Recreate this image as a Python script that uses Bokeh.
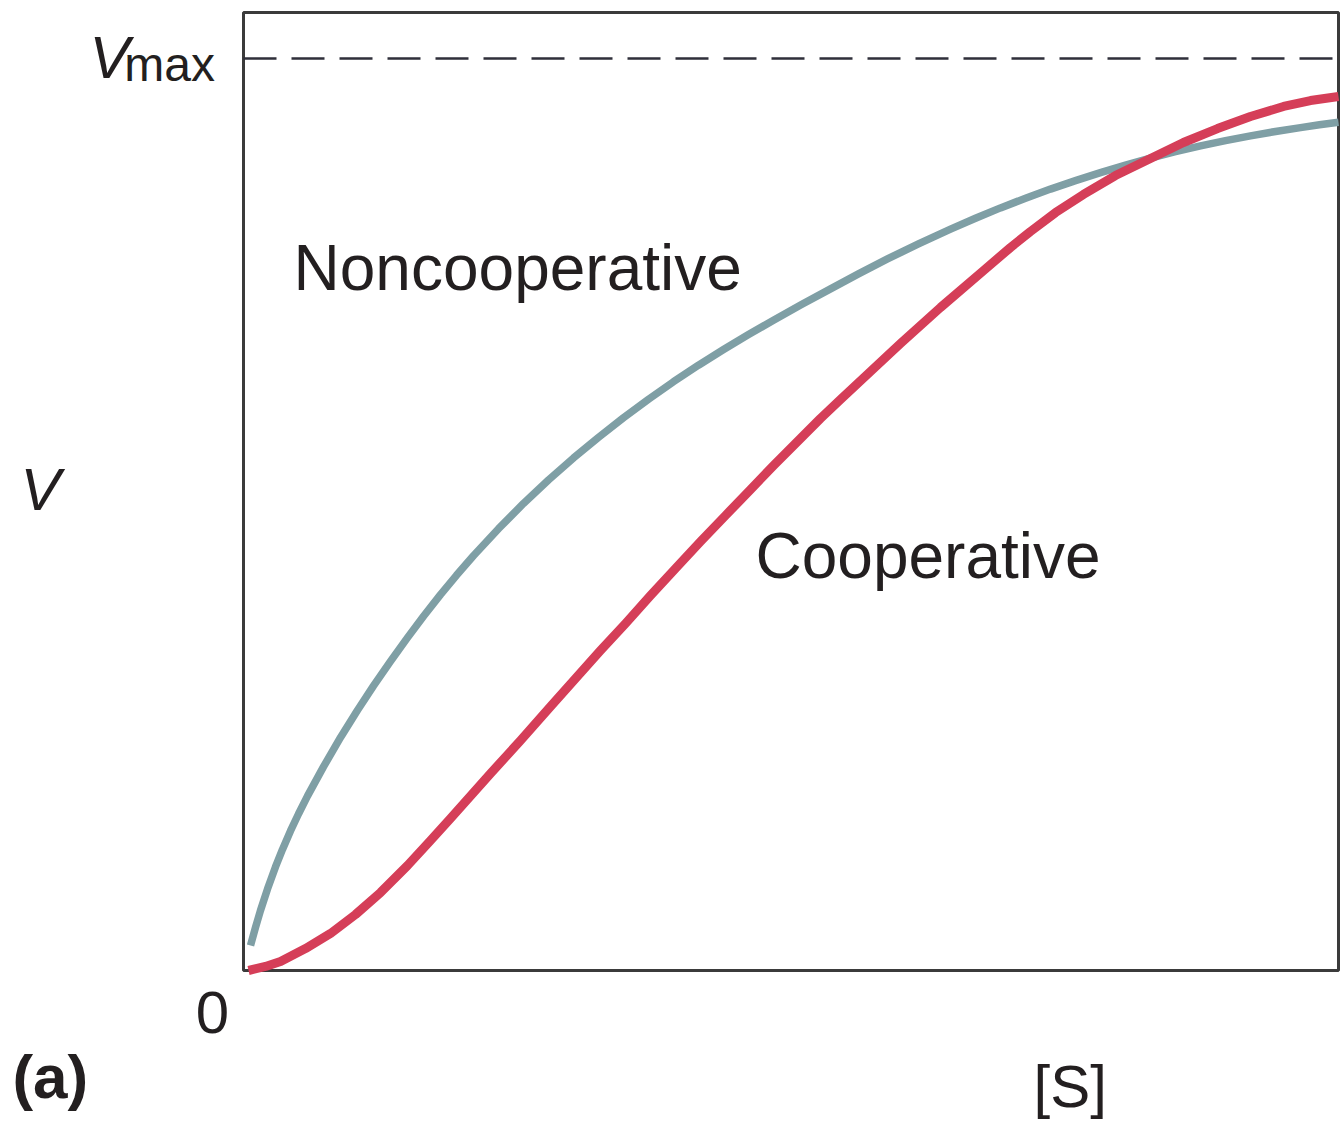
from bokeh.plotting import figure
from bokeh.models import Range1d, Label
from bokeh.embed import file_html
from bokeh.resources import INLINE

# Reaction velocity V (fraction of Vmax) against substrate concentration [S]
s_noncoop = [0.0064, 0.0110, 0.0155, 0.0219, 0.0292, 0.0356, 0.0429, 0.0502, 0.0584,
             0.0731, 0.0886, 0.1041, 0.1187, 0.1342, 0.1498, 0.1644, 0.1799, 0.1945,
             0.2100, 0.2329, 0.2557, 0.2785, 0.3014, 0.3242, 0.3470, 0.3699, 0.3927,
             0.4155, 0.4384, 0.4612, 0.4840, 0.5096, 0.5361, 0.5616, 0.5881, 0.6164,
             0.6457, 0.6685, 0.6913, 0.7142, 0.7370, 0.7598, 0.7826, 0.8055, 0.8283,
             0.8511, 0.8740, 0.8968, 0.9196, 0.9425, 0.9653, 0.9826, 1.0000]
v_noncoop = [0.0274, 0.0474, 0.0658, 0.0893, 0.1135, 0.1328, 0.1530, 0.1716, 0.1912,
             0.2235, 0.2555, 0.2854, 0.3121, 0.3390, 0.3650, 0.3884, 0.4121, 0.4333,
             0.4547, 0.4844, 0.5121, 0.5378, 0.5620, 0.5846, 0.6061, 0.6264, 0.6456,
             0.6637, 0.6809, 0.6973, 0.7130, 0.7302, 0.7474, 0.7639, 0.7802, 0.7967,
             0.8129, 0.8249, 0.8362, 0.8468, 0.8568, 0.8661, 0.8749, 0.8831, 0.8908,
             0.8978, 0.9042, 0.9100, 0.9152, 0.9200, 0.9242, 0.9273, 0.9300]

s_coop = [0.0046, 0.0201, 0.0338, 0.0566, 0.0795, 0.1023, 0.1251, 0.1498, 0.1708,
          0.1890, 0.2256, 0.2530, 0.2804, 0.3032, 0.3260, 0.3489, 0.3717, 0.3945,
          0.4174, 0.4402, 0.4630, 0.4840, 0.5087, 0.5269, 0.5452, 0.5726, 0.6000,
          0.6365, 0.6758, 0.7005, 0.7187, 0.7416, 0.7671, 0.7963, 0.8283, 0.8584,
          0.8895, 0.9196, 0.9498, 0.9744, 1.0000]
v_coop = [0.0000, 0.0044, 0.0099, 0.0241, 0.0406, 0.0614, 0.0855, 0.1151, 0.1425,
          0.1667, 0.2160, 0.2522, 0.2895, 0.3202, 0.3509, 0.3805, 0.4112, 0.4408,
          0.4704, 0.4989, 0.5274, 0.5537, 0.5833, 0.6053, 0.6261, 0.6568, 0.6875,
          0.7270, 0.7675, 0.7928, 0.8103, 0.8311, 0.8509, 0.8717, 0.8904, 0.9079,
          0.9232, 0.9364, 0.9474, 0.9539, 0.9583]

v_max = 1.0
s_lo, s_hi = 0.0, 1.0
v_lo, v_hi = 0.0, 1.0504
curve_labels = ["Noncooperative", "Cooperative"]

TEXT = "#231f20"
FONT = "Liberation Sans"

# the data frame fills the whole canvas so that the annotations around the
# plotting box can be placed in the same coordinates
p = figure(width=1341, height=1122, output_backend="svg", toolbar_location=None,
           x_range=Range1d(-0.22192, 1.00274), y_range=Range1d(-0.16667, 1.06360),
           x_axis_location=None, y_axis_location=None, min_border=0)
p.xgrid.visible = False
p.ygrid.visible = False
p.outline_line_color = None
p.background_fill_color = "white"
p.border_fill_color = "white"

# plotting box
p.quad(left=[s_lo], right=[s_hi], bottom=[v_lo], top=[v_hi], fill_color=None,
       line_color="#3b3b3b", line_width=3)

# Vmax asymptote
p.line([s_lo, s_hi], [v_max, v_max], line_color="#2f2f3a", line_width=2.5,
       line_dash="33 15")

p.line(s_noncoop, v_noncoop, line_color="#7f9fa5", line_width=7.5,
       line_cap="butt", line_join="round")
p.line(s_coop, v_coop, line_color="#d53e58", line_width=9,
       line_cap="butt", line_join="round")

# labels sit on their text baseline; LIFT compensates the baseline offset
LIFT = 0.025


def add_label(x, y, text, size, style="normal", align="left"):
    p.add_layout(Label(x=x, y=y + LIFT, text=text, text_font=FONT,
                       text_font_size=size, text_font_style=style,
                       text_color=TEXT, text_align=align,
                       text_baseline="alphabetic"))


add_label(0.0457, 0.7456, curve_labels[0], "64px")
add_label(0.4676, 0.4298, curve_labels[1], "64px")

# axis annotations around the box
add_label(-0.1406, 0.9759, "V", "60px", "italic")
add_label(-0.1088, 0.9682, "max", "48px")
add_label(-0.2037, 0.5020, "V", "60px", "italic")
add_label(-0.0283, -0.0713, "0", "60px", align="center")
add_label(0.7215, -0.1518, "[S]", "60px")
add_label(-0.2110, -0.1414, "(a)", "62px", "bold")

open("out.html", "w").write(file_html(p, INLINE))
